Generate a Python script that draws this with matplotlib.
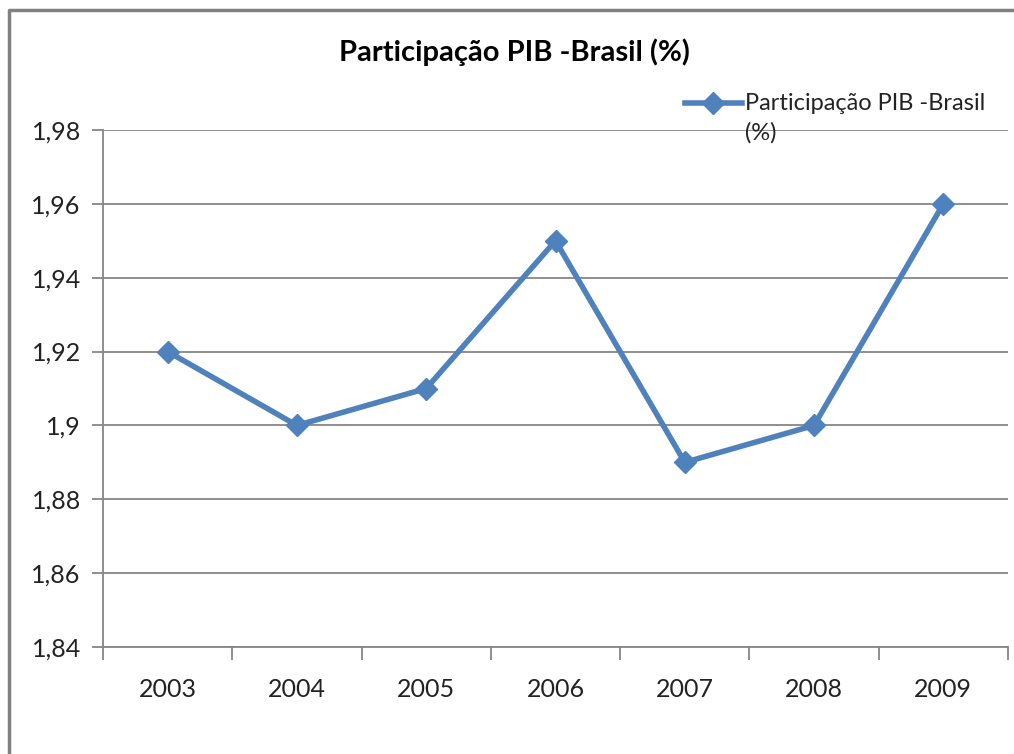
"""Participação PIB - Brasil"""

from matplotlib import pyplot as plt
from matplotlib.lines import Line2D

years = ['2003', '2004', '2005', '2006', '2007', '2008', '2009']
share = [1.92, 1.90, 1.91, 1.95, 1.89, 1.90, 1.96]
y_ticks = [1.84, 1.86, 1.88, 1.90, 1.92, 1.94, 1.96, 1.98]
y_labels = ['1,84', '1,86', '1,88', '1,9', '1,92', '1,94', '1,96', '1,98']

blue = '#4F81BD'
grey = '#868686'
W, H = 1014, 754

plt.rcParams['font.family'] = ['Lato', 'DejaVu Sans']

fig = plt.figure(figsize=(W / 100, H / 100), dpi=100)
# chart border: only the left and top edges fall inside the picture
fig.add_artist(Line2D([9 / W, 9 / W, 1.0], [0.0, 1 - 10 / H, 1 - 10 / H],
                      color='#808080', linewidth=2.5,
                      transform=fig.transFigure))

ax = fig.add_axes([103 / W, 1 - 647 / H, (1008 - 103) / W, (647 - 130) / H])
x = list(range(len(years)))
ax.plot(x, share, color=blue, linewidth=4, marker='D', markersize=11,
        zorder=3, clip_on=False)

ax.set_xlim(-0.5, len(years) - 0.5)
ax.set_ylim(1.84, 1.98)
ax.set_yticks(y_ticks)
ax.set_yticklabels(y_labels)
ax.set_xticks(x)
ax.set_xticklabels(years)
ax.set_xticks([i - 0.5 for i in range(len(years) + 1)], minor=True)
ax.tick_params(axis='x', which='major', length=0, pad=22, labelsize=18,
               colors='#222222')
ax.tick_params(axis='x', which='minor', length=9, width=1.3, color=grey)
ax.tick_params(axis='y', length=8, width=1.3, color=grey, pad=8,
               labelsize=18, labelcolor='#222222')
ax.grid(axis='y', color=grey, linewidth=1.3)
ax.set_axisbelow(True)
for side in ['top', 'right']:
    ax.spines[side].set_visible(False)
for side in ['left', 'bottom']:
    ax.spines[side].set_color(grey)
    ax.spines[side].set_linewidth(1.3)

fig.text(514 / W, 1 - 52 / H, 'Participação PIB -Brasil (%)',
         ha='center', va='center', fontsize=21, fontweight='bold')

# legend
fig.add_artist(Line2D([685 / W, 742 / W], [1 - 103 / H, 1 - 103 / H],
                      color=blue, linewidth=4, transform=fig.transFigure))
fig.add_artist(Line2D([713 / W], [1 - 103 / H], color=blue, marker='D',
                      markersize=11, transform=fig.transFigure))
fig.text(745 / W, 1 - 103 / H, 'Participação PIB -Brasil',
         ha='left', va='center', fontsize=17, color='#222222')
fig.text(745 / W, 1 - 133 / H, '(%)',
         ha='left', va='center', fontsize=17, color='#222222')

fig.savefig('out.png', dpi=100)
